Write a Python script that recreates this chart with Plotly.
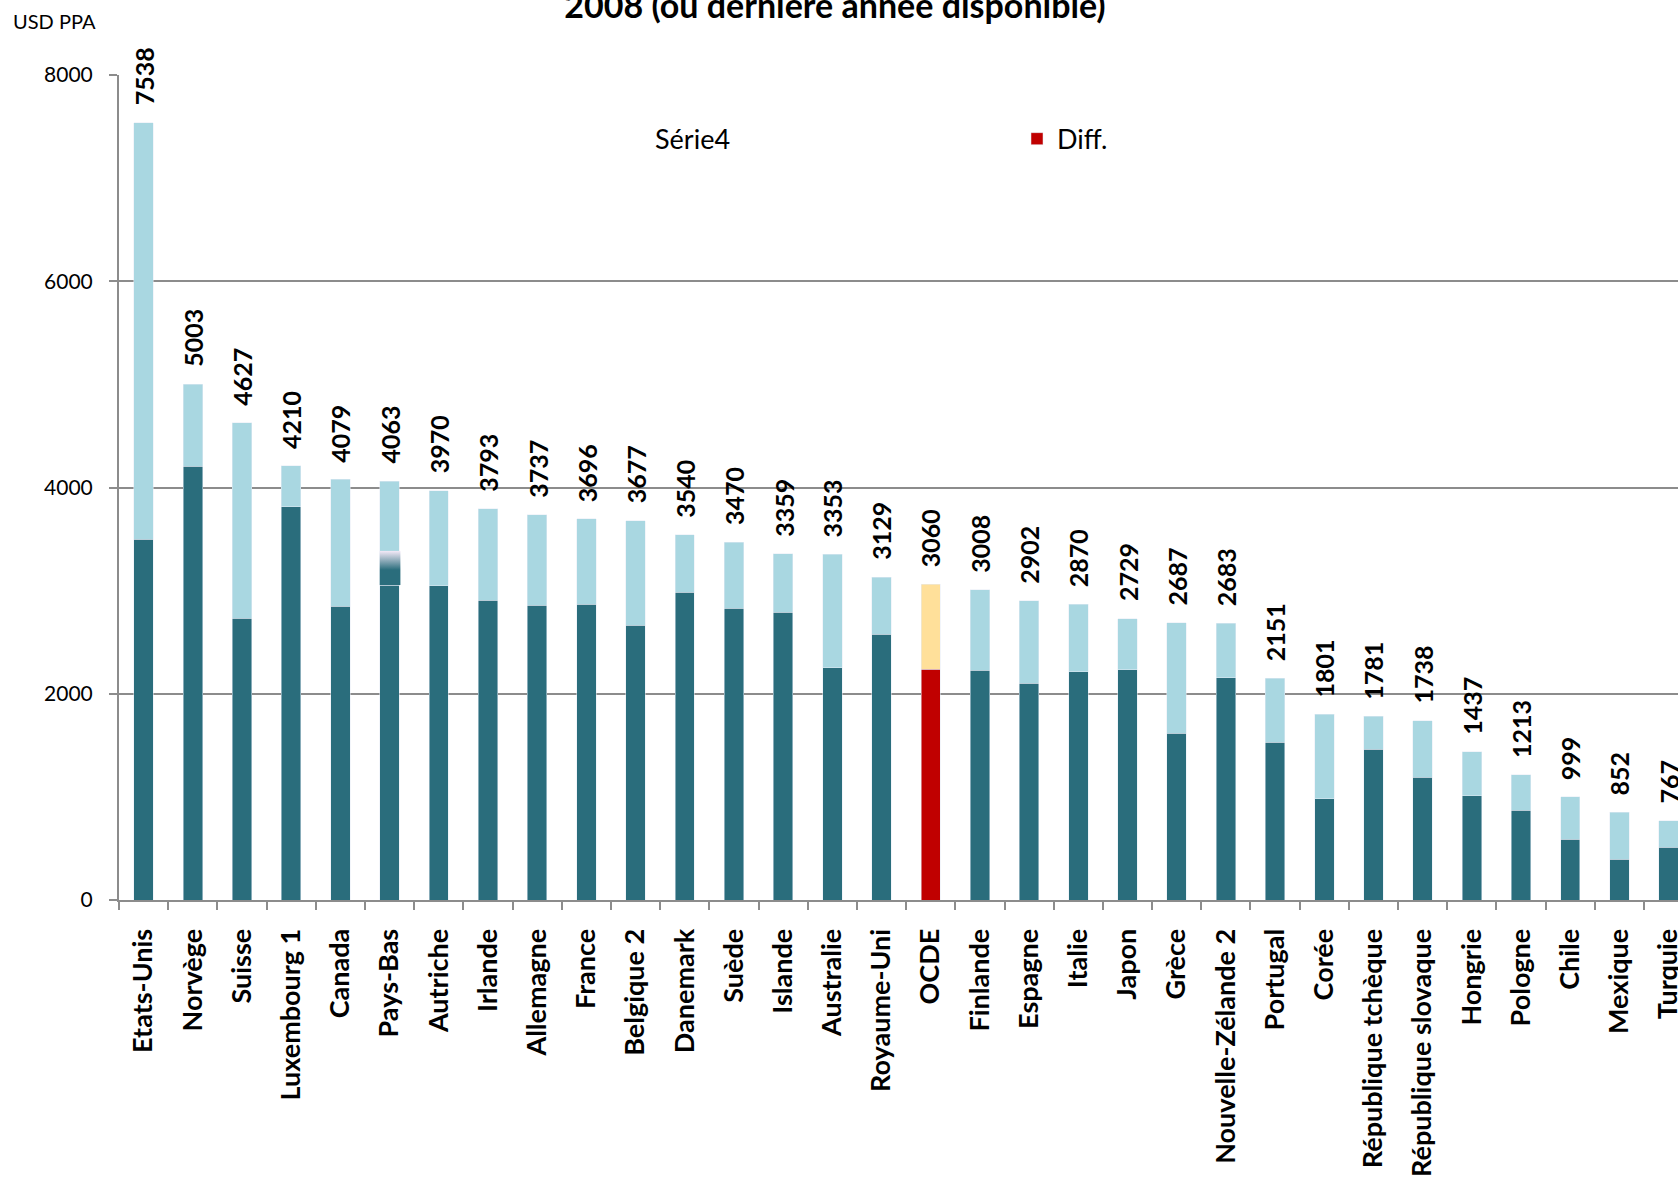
import plotly.graph_objects as go

# Dépenses annuelles par étudiant, USD PPA, 2008 (ou dernière année disponible)
categories = [
    "Etats-Unis", "Norvège", "Suisse", "Luxembourg 1", "Canada", "Pays-Bas",
    "Autriche", "Irlande", "Allemagne", "France", "Belgique 2", "Danemark",
    "Suède", "Islande", "Australie", "Royaume-Uni", "OCDE", "Finlande",
    "Espagne", "Italie", "Japon", "Grèce", "Nouvelle-Zélande 2", "Portugal",
    "Corée", "République tchèque", "République slovaque", "Hongrie",
    "Pologne", "Chile", "Mexique", "Turquie",
]
totals = [
    7538, 5003, 4627, 4210, 4079, 4063, 3970, 3793, 3737, 3696, 3677, 3540,
    3470, 3359, 3353, 3129, 3060, 3008, 2902, 2870, 2729, 2687, 2683, 2151,
    1801, 1781, 1738, 1437, 1213, 999, 852, 767,
]
lower_part = [
    3500, 4205, 2733, 3813, 2849, 3054, 3046, 2908, 2860, 2870, 2663, 2982,
    2830, 2788, 2253, 2576, 2236, 2226, 2102, 2211, 2231, 1617, 2153, 1529,
    984, 1461, 1188, 1013, 870, 590, 395, 510,
]
# Pays-Bas: shaded band between these two values
nl_band = [3054, 3385]
nl_fade_start = 3200

average_name = "OCDE"
y_ticks = [0, 2000, 4000, 6000, 8000]

DARK = "#2a6d7c"
LIGHT = "#a9d7e1"
AVG_DARK = "#c00000"
AVG_LIGHT = "#ffe09a"
GRID = "#8c8c8c"
FONT = "Lato"

avg_idx = categories.index(average_name)
upper_part = [t - l for t, l in zip(totals, lower_part)]
lower_main = [None if i == avg_idx else v for i, v in enumerate(lower_part)]
lower_avg = [v if i == avg_idx else None for i, v in enumerate(lower_part)]
upper_colors = [AVG_LIGHT if i == avg_idx else LIGHT for i in range(len(categories))]

fig = go.Figure()

# series shown only as a legend entry (no visible marks)
fig.add_trace(go.Scatter(
    x=categories, y=totals, name="Série4", mode="markers",
    marker=dict(opacity=0, color="#ffffff"), hoverinfo="skip",
))
fig.add_trace(go.Bar(
    x=categories, y=lower_main, marker_color=DARK, showlegend=False, name="",
))
fig.add_trace(go.Bar(
    x=categories, y=lower_avg, marker_color=AVG_DARK, name="Diff.",
))
fig.add_trace(go.Bar(
    x=categories, y=upper_part, marker_color=upper_colors, showlegend=False, name="",
))

# shaded band on the Pays-Bas bar, drawn on a numeric overlay axis
nl_idx = categories.index("Pays-Bas")
half_w = 0.2
x0, x1 = nl_idx - half_w, nl_idx + half_w + 0.02
fade = (nl_fade_start - nl_band[0]) / (nl_band[1] - nl_band[0])
fig.add_trace(go.Scatter(
    x=[x0, x1, x1, x0, x0],
    y=[nl_band[0], nl_band[0], nl_band[1], nl_band[1], nl_band[0]],
    xaxis="x2", yaxis="y", mode="lines", line=dict(width=0),
    fill="toself",
    fillgradient=dict(type="vertical",
                      colorscale=[[0, DARK], [fade, DARK], [1, "#f4eaf8"]]),
    showlegend=False, hoverinfo="skip",
))

# value labels above each bar
for c, t in zip(categories, totals):
    fig.add_annotation(
        x=c, y=t, text=f"<b>{t}</b>", showarrow=False, textangle=-90,
        xanchor="center", yanchor="bottom", yshift=15,
        font=dict(family=FONT, size=25, color="#000000"),
    )

fig.add_annotation(
    xref="paper", yref="paper", x=-108 / 1559, y=1 + 54 / 825,
    xanchor="left", yanchor="middle", text="USD PPA", showarrow=False,
    font=dict(family=FONT, size=20, color="#000000"),
)

x_range = [-0.5, 31.19]
fig.update_layout(
    width=1678, height=1181,
    margin=dict(l=119, r=0, t=75, b=281, autoexpand=False),
    paper_bgcolor="#ffffff", plot_bgcolor="#ffffff",
    barmode="stack", bargap=0.605,
    font=dict(family=FONT, color="#000000"),
    title=dict(
        text="<b>2008 (ou dernière année disponible)</b>",
        x=835 / 1678, xanchor="center", xref="container",
        y=1 - 6 / 1181, yanchor="middle", yref="container",
        font=dict(family=FONT, size=34, color="#000000"),
    ),
    legend=dict(
        orientation="h", traceorder="normal",
        x=(615 - 119) / 1559, xanchor="left",
        y=0.952, yanchor="top", entrywidth=357, entrywidthmode="pixels",
        font=dict(family=FONT, size=27, color="#000000"),
        bgcolor="rgba(0,0,0,0)",
    ),
    xaxis=dict(
        type="category", range=x_range, showline=True, linecolor=GRID,
        linewidth=2, ticks="outside", tickson="boundaries", ticklen=8,
        tickwidth=2, tickcolor=GRID, tickangle=-90, ticklabelstandoff=16,
        tickfont=dict(family=FONT, size=27, color="#000000", weight="bold"),
        showgrid=False, automargin=False,
    ),
    xaxis2=dict(overlaying="x", range=x_range, visible=False, anchor="y"),
    yaxis=dict(
        range=[0, 8000], tickvals=y_ticks, showgrid=True, gridcolor=GRID,
        gridwidth=2, showline=True, linecolor=GRID, linewidth=2,
        ticks="outside", ticklen=8, tickwidth=2, tickcolor=GRID,
        zeroline=False, ticklabelstandoff=12,
        tickfont=dict(family=FONT, size=21, color="#000000"),
        automargin=False,
    ),
)

fig.write_html("out.html")
